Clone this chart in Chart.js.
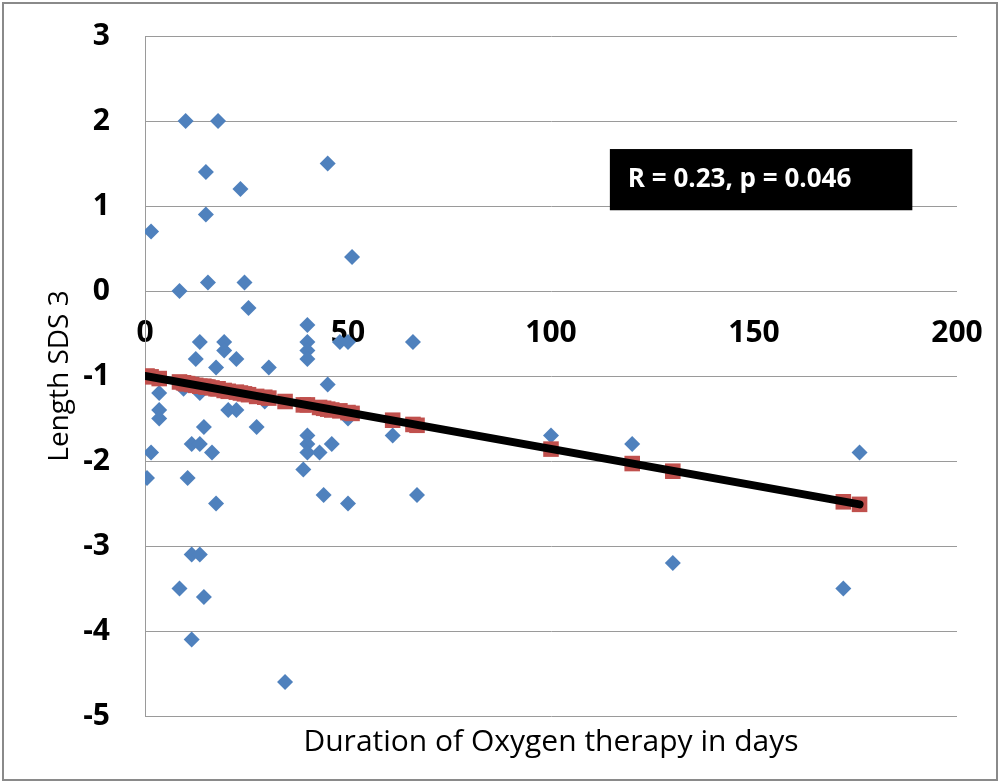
<!DOCTYPE html>
<html>
<head>
<meta charset="utf-8">
<script src="https://cdn.jsdelivr.net/npm/chart.js@4/dist/chart.umd.min.js"></script>
<style>
    html, body { margin: 0; padding: 0; background: #fff; }
    .cadre {
        position: absolute; left: 2px; top: 2px;
        width: 992px; height: 775px;
        border: 2px solid #8a8a8a;
    }
    #graphique { position: absolute; left: 0; top: 0; }
</style>
</head>
<body>
<div class="cadre"></div>
<canvas id="graphique" width="998" height="781"></canvas>
<script>
// Points mesurés (durée d'oxygène en jours, Length SDS 3)
const dureeJours = [10, 18, 15, 23.5, 15, 1.5, 8.5, 15.5, 24.5, 25.5,
    13.5, 19.5, 19.5, 12.5, 17.5, 22.5, 30.5, 3.5, 9.5, 13.5,
    3.5, 3.5, 20.5, 22.5, 29.5, 14.5, 27.5, 1.5, 11.5, 13.5,
    16.5, 0.5, 10.5, 17.5, 11.5, 13.5, 8.5, 14.5, 11.5, 34.5,
    45, 51, 40, 40, 40, 40, 48, 50, 66, 45,
    50, 40, 40, 40, 43, 46, 39, 44, 50, 61,
    67, 100, 120, 176, 130, 172];
const lengthSDS = [2, 2, 1.4, 1.2, 0.9, 0.7, 0, 0.1, 0.1, -0.2,
    -0.6, -0.6, -0.7, -0.8, -0.9, -0.8, -0.9, -1.2, -1.15, -1.2,
    -1.4, -1.5, -1.4, -1.4, -1.3, -1.6, -1.6, -1.9, -1.8, -1.8,
    -1.9, -2.2, -2.2, -2.5, -3.1, -3.1, -3.5, -3.6, -4.1, -4.6,
    1.5, 0.4, -0.4, -0.6, -0.7, -0.8, -0.6, -0.6, -0.6, -1.1,
    -1.5, -1.7, -1.8, -1.9, -1.9, -1.8, -2.1, -2.4, -2.5, -1.7,
    -2.4, -1.7, -1.8, -1.9, -3.2, -3.5];

// Valeurs prédites (carrés rouges)
const predX = [0.5, 1.5, 3.5, 8.5, 9.5, 10, 10.5, 11.5, 12.5, 13.5,
    14.5, 15, 15.5, 16.5, 17.5, 18, 19.5, 20.5, 22.5, 23.5,
    24.5, 25.5, 27.5, 29.5, 30.5, 34.5, 39, 40, 43, 44,
    45, 46, 48, 50, 51, 61, 66, 67, 100, 120,
    130, 172, 176];
const predY = [-1.00, -1.01, -1.03, -1.07, -1.08, -1.09, -1.09, -1.10, -1.11, -1.12,
    -1.12, -1.13, -1.13, -1.14, -1.15, -1.15, -1.17, -1.18, -1.19, -1.20,
    -1.21, -1.22, -1.24, -1.25, -1.26, -1.30, -1.34, -1.34, -1.37, -1.38,
    -1.39, -1.40, -1.41, -1.43, -1.44, -1.52, -1.57, -1.58, -1.86, -2.03,
    -2.12, -2.48, -2.51];

// Droite de régression
const droiteX = [0, 176];
const droiteY = [-1.0, -2.51];

const ticksX = [0, 50, 100, 150, 200];
const ticksY = [3, 2, 1, 0, -1, -2, -3, -4, -5];
const texteStat = 'R = 0.23, p = 0.046';

const police = "'Open Sans', 'DejaVu Sans', sans-serif";

function points(xs, ys) {
    return xs.map((x, i) => ({ x: x, y: ys[i] }));
}

// pas de marge automatique autour des axes
function sansMarge(s) {
    s.paddingTop = 0;
    s.paddingBottom = 0;
    s.paddingLeft = 0;
    s.paddingRight = 0;
}

// Encadré noir avec R et p
const encadre = {
    id: 'encadre',
    afterDatasetsDraw(chart) {
        const ctx = chart.ctx;
        const sx = chart.scales.x, sy = chart.scales.y;
        const x1 = sx.getPixelForValue(114.5), x2 = sx.getPixelForValue(189);
        const y1 = sy.getPixelForValue(1.67), y2 = sy.getPixelForValue(0.95);
        ctx.save();
        ctx.fillStyle = '#000';
        ctx.fillRect(x1, y1, x2 - x1, y2 - y1);
        ctx.fillStyle = '#fff';
        ctx.font = "bold 26px " + police;
        ctx.textBaseline = 'middle';
        ctx.fillText(texteStat, x1 + 18, (y1 + y2) / 2);
        ctx.restore();
    }
};

const ctx = document.getElementById('graphique').getContext('2d');
new Chart(ctx, {
    type: 'scatter',
    data: {
        datasets: [
            {
                type: 'line',
                data: points(droiteX, droiteY),
                borderColor: '#000',
                borderWidth: 8,
                borderCapStyle: 'round',
                pointRadius: 0,
                fill: false
            },
            {
                data: points(predX, predY),
                pointStyle: 'rect',
                pointRadius: 11,
                backgroundColor: '#C0504D',
                borderWidth: 0
            },
            {
                data: points(dureeJours, lengthSDS),
                pointStyle: 'rectRot',
                pointRadius: 8,
                backgroundColor: '#4F81BD',
                borderWidth: 0
            }
        ]
    },
    options: {
        responsive: false,
        animation: false,
        layout: { padding: { left: 0, top: 36, right: 41, bottom: 0 } },
        plugins: { legend: { display: false }, tooltip: { enabled: false } },
        scales: {
            x: {
                type: 'linear',
                position: { y: 0 },
                min: 0, max: 200,
                afterBuildTicks: s => { s.ticks = ticksX.map(v => ({ value: v })); },
                afterFit: sansMarge,
                grid: { display: false, drawTicks: false },
                border: { display: false },
                ticks: {
                    padding: 24,
                    color: '#000',
                    font: { family: police, size: 30, weight: 'bold' }
                }
            },
            xt: {
                type: 'linear',
                position: 'bottom',
                min: 0, max: 200,
                grid: { display: false },
                border: { display: false },
                ticks: { display: false },
                afterFit: s => { s.height = 65; sansMarge(s); },
                title: {
                    display: true,
                    text: 'Duration of Oxygen therapy in days',
                    color: '#000',
                    padding: { top: 0, bottom: 21 },
                    font: { family: police, size: 30 }
                }
            },
            y: {
                min: -5, max: 3,
                afterBuildTicks: s => { s.ticks = ticksY.map(v => ({ value: v })); },
                afterFit: s => { s.width = 145; sansMarge(s); },
                grid: { color: '#9a9a9a', lineWidth: 1, drawTicks: false },
                border: { display: true, color: '#9a9a9a', width: 1 },
                ticks: {
                    padding: 35,
                    color: '#000',
                    font: { family: police, size: 30, weight: 'bold' }
                },
                title: {
                    display: true,
                    text: 'Length SDS 3',
                    color: '#000',
                    padding: { top: 43, bottom: 0 },
                    font: { family: police, size: 28 }
                }
            }
        }
    },
    plugins: [encadre]
});
</script>
</body>
</html>
